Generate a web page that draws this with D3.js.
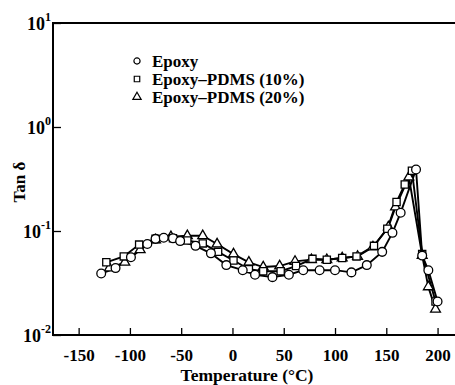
<!DOCTYPE html>
<html>
<head>
<meta charset="utf-8">
<script src="https://cdn.jsdelivr.net/npm/d3@7"></script>
<style>
  body { margin: 0; background: #fff; }
  text { font-family: "Liberation Serif", "DejaVu Serif", serif; fill: #000; }
</style>
</head>
<body>
<div id="chart"></div>
<script>
// values
const epoxyTemp = [-128, -114, -99, -83, -75, -67, -58, -51, -36, -21, -6, 10, 22, 39, 55, 69, 85, 100, 116, 131, 146, 156, 164, 179, 185, 191, 200]
const epoxyTan = [0.039, 0.044, 0.056, 0.075, 0.084, 0.086, 0.085, 0.080, 0.072, 0.061, 0.047, 0.042, 0.038, 0.036, 0.038, 0.042, 0.042, 0.042, 0.040, 0.047, 0.063, 0.096, 0.15, 0.39, 0.058, 0.042, 0.021]

const pdms10Temp = [-123, -106, -91, -75, -58, -44, -29, -14, 1, 16, 30, 47, 62, 78, 92, 107, 121, 138, 151, 160, 168, 175, 185, 198]
const pdms10Tan = [0.050, 0.057, 0.074, 0.084, 0.085, 0.081, 0.076, 0.063, 0.052, 0.043, 0.041, 0.041, 0.046, 0.054, 0.053, 0.055, 0.057, 0.072, 0.105, 0.19, 0.28, 0.38, 0.060, 0.021]

const pdms20Temp = [-120, -105, -90, -75, -60, -44, -29, -15, 1, 16, 30, 46, 61, 77, 92, 107, 122, 137, 152, 159, 172, 185, 191, 198]
const pdms20Tan = [0.044, 0.050, 0.066, 0.082, 0.088, 0.090, 0.090, 0.075, 0.060, 0.050, 0.045, 0.046, 0.051, 0.053, 0.053, 0.055, 0.057, 0.070, 0.109, 0.17, 0.33, 0.058, 0.029, 0.0177]

const seriesNames = ['Epoxy', 'Epoxy\u2013PDMS (10%)', 'Epoxy\u2013PDMS (20%)']
const seriesSymbols = ['circle', 'square', 'triangle']
const xTicks = [-150, -100, -50, 0, 50, 100, 150, 200]
const yTickExps = [-2, -1, 0, 1]

const width = 455, height = 385
const margin = {left: 53, top: 23, right: 455, bottom: 335}

const svg = d3.select('#chart').append('svg')
    .attr('width', width)
    .attr('height', height)

const x_scale = d3.scaleLinear()
    .domain([-175, 217])
    .range([margin.left, margin.right])

const y_scale = d3.scaleLog()
    .domain([0.01, 10])
    .range([margin.bottom, margin.top])

const symbolType = {
    circle: d3.symbolCircle,
    square: d3.symbolSquare,
    triangle: d3.symbolTriangle
}

// frame: left, top and bottom lines only
svg.append('path')
    .attr('d', `M${margin.right},${margin.top}H${margin.left}V${margin.bottom}H${margin.right}`)
    .attr('fill', 'none')
    .attr('stroke', '#000')
    .attr('stroke-width', 2)

// x axis, ticks pointing in
const xAxis = svg.append('g')
    .attr('transform', `translate(0, ${margin.bottom})`)
    .call(d3.axisBottom(x_scale).tickValues(xTicks).tickSize(-7).tickPadding(14).tickFormat(d => String(d)))
xAxis.select('.domain').remove()
xAxis.selectAll('line').attr('stroke-width', 1.3)
xAxis.selectAll('text')
    .attr('font-family', '"Liberation Serif", serif')
    .attr('font-size', 17)
    .attr('font-weight', 'bold')

// y axis, ticks pointing in
const yAxis = svg.append('g')
    .attr('transform', `translate(${margin.left}, 0)`)
    .call(d3.axisLeft(y_scale).tickValues(yTickExps.map(e => Math.pow(10, e))).tickSize(-8).tickFormat(''))
yAxis.select('.domain').remove()
yAxis.selectAll('line').attr('stroke-width', 1.3)

const yLabels = svg.append('g')
yTickExps.forEach(e => {
    const t = yLabels.append('text')
        .attr('x', margin.left - 2)
        .attr('y', y_scale(Math.pow(10, e)) + 7)
        .attr('text-anchor', 'end')
        .attr('font-size', 18)
        .attr('font-weight', 'bold')
    t.append('tspan').text('10')
    t.append('tspan').attr('dy', -9).attr('font-size', 12).text(e)
})

// axis titles
svg.append('text')
    .text('Tan \u03b4')
    .attr('text-anchor', 'middle')
    .attr('font-size', 17)
    .attr('font-weight', 'bold')
    .attr('transform', `translate(25, ${(margin.top + margin.bottom) / 2 + 3})rotate(-90)`)

svg.append('text')
    .text('Temperature (\u00b0C)')
    .attr('text-anchor', 'middle')
    .attr('font-size', 17.5)
    .attr('font-weight', 'bold')
    .attr('x', 247)
    .attr('y', 381)

// series, circles drawn last so they sit on top
const series = [
    {temp: pdms20Temp, tan: pdms20Tan, symbol: 'triangle', size: 42},
    {temp: pdms10Temp, tan: pdms10Tan, symbol: 'square', size: 52},
    {temp: epoxyTemp, tan: epoxyTan, symbol: 'circle', size: 60}
]

const line = d3.line()
    .x(d => x_scale(d[0]))
    .y(d => y_scale(d[1]))

series.forEach(s => {
    const pts = s.temp.map((t, i) => [t, s.tan[i]])
    svg.append('path')
        .datum(pts)
        .attr('d', line)
        .attr('fill', 'none')
        .attr('stroke', '#000')
        .attr('stroke-width', 1.9)
})

series.forEach(s => {
    const pts = s.temp.map((t, i) => [t, s.tan[i]])
    svg.append('g').selectAll('path')
        .data(pts)
        .join('path')
        .attr('d', d3.symbol().type(symbolType[s.symbol]).size(s.size))
        .attr('transform', d => `translate(${x_scale(d[0])}, ${y_scale(d[1])})`)
        .attr('fill', '#fff')
        .attr('stroke', '#000')
        .attr('stroke-width', 1.3)
})

// legend
const legend = svg.append('g').attr('transform', 'translate(137, 61)')
seriesNames.forEach((name, i) => {
    const g = legend.append('g').attr('transform', `translate(0, ${i * 18})`)
    g.append('path')
        .attr('d', d3.symbol().type(symbolType[seriesSymbols[i]]).size(30))
        .attr('fill', '#fff')
        .attr('stroke', '#000')
        .attr('stroke-width', 1.2)
    g.append('text')
        .attr('x', 15)
        .attr('y', 6)
        .attr('font-size', 17)
        .attr('font-weight', 'bold')
        .text(name)
})
</script>
</body>
</html>
